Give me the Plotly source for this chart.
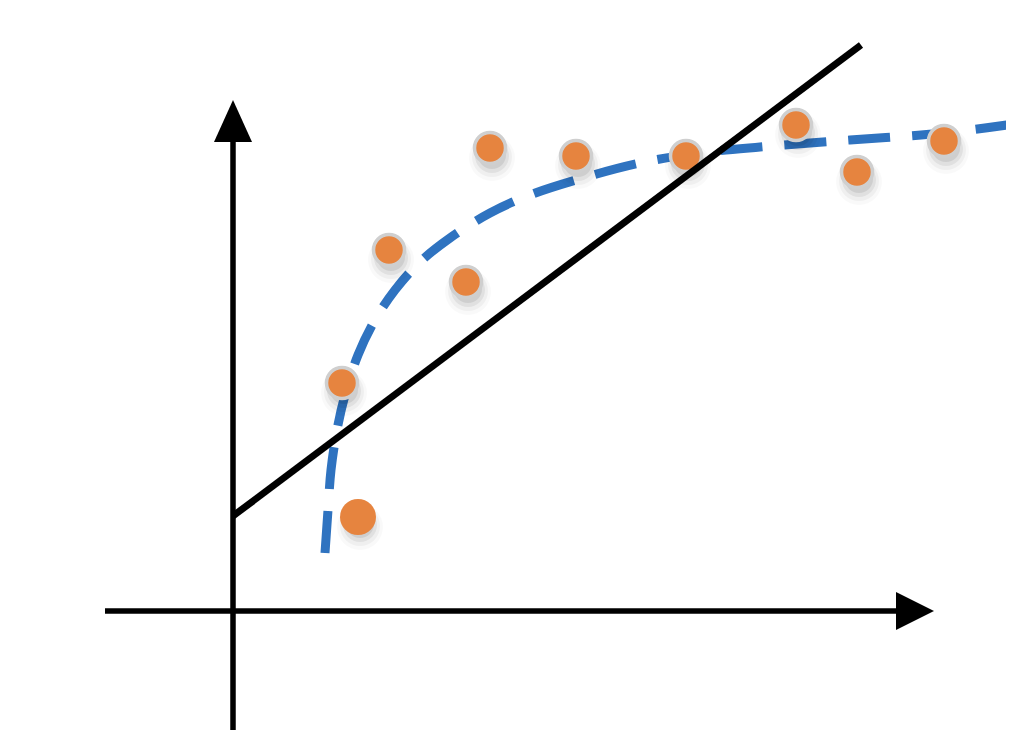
import plotly.graph_objects as go

# Data (units: 1 unit = 100 px of the reference picture, origin at axes crossing)
pts_x = [1.09, 1.56, 2.33, 2.57, 3.43, 4.53, 5.63, 6.24, 7.11]
pts_y = [2.29, 3.62, 3.30, 4.64, 4.56, 4.56, 4.87, 4.40, 4.71]
outlier_x = [1.25]
outlier_y = [0.95]

curve_x = [0.92, 0.95, 0.98, 1.04, 1.12, 1.25, 1.42, 1.62, 1.87, 2.17, 2.57, 2.97, 3.43, 4.07, 4.67, 5.27, 6.17, 7.11, 7.81]
curve_y = [0.59, 1.02, 1.42, 1.82, 2.17, 2.57, 2.92, 3.22, 3.50, 3.74, 3.99, 4.17, 4.32, 4.49, 4.59, 4.65, 4.72, 4.79, 4.88]

fit_x = [0.0, 6.28]
fit_y = [0.96, 5.67]

ORANGE = "#E6843F"
BLUE = "#2F73C0"

fig = go.Figure()

# axes with arrows (decoration)
AX_W = 5.5
fig.add_shape(type="line", x0=0, x1=0, y0=-1.4, y1=4.72, line=dict(color="black", width=AX_W))
fig.add_shape(type="path", path="M -0.19 4.70 L 0.19 4.70 L 0 5.12 Z", fillcolor="black", line=dict(width=0))
fig.add_shape(type="line", x0=-1.28, x1=6.65, y0=0.01, y1=0.01, line=dict(color="black", width=AX_W))
fig.add_shape(type="path", path="M 6.63 0.20 L 6.63 -0.18 L 7.01 0.01 Z", fillcolor="black", line=dict(width=0))

# dashed fitted curve
fig.add_trace(go.Scatter(x=curve_x, y=curve_y, mode="lines",
                         line=dict(color=BLUE, width=9, dash="42px,22px", shape="spline", smoothing=1.0),
                         hoverinfo="skip"))

# soft shadows
all_x = pts_x + outlier_x
all_y = pts_y + outlier_y
for size, op, dy in [(46, 0.025, 0.10), (40, 0.04, 0.09), (34, 0.06, 0.08), (28, 0.08, 0.07)]:
    fig.add_trace(go.Scatter(x=[v + 0.02 for v in all_x], y=[v - dy for v in all_y], mode="markers",
                             marker=dict(size=size, color=f"rgba(0,0,0,{op})", line=dict(width=0)),
                             hoverinfo="skip"))

# points
fig.add_trace(go.Scatter(x=pts_x, y=pts_y, mode="markers",
                         marker=dict(size=31, color=ORANGE, line=dict(color="#CFCFCF", width=3.5))))
fig.add_trace(go.Scatter(x=outlier_x, y=outlier_y, mode="markers",
                         marker=dict(size=36, color=ORANGE, line=dict(width=0))))

# straight fit line
fig.add_trace(go.Scatter(x=fit_x, y=fit_y, mode="lines",
                         line=dict(color="black", width=7), hoverinfo="skip"))

fig.update_layout(
    width=998, height=722, autosize=False,
    margin=dict(l=0, r=0, t=0, b=0),
    paper_bgcolor="white", plot_bgcolor="white",
    showlegend=False,
    xaxis=dict(range=[-2.25, 7.73], visible=False, fixedrange=True),
    yaxis=dict(range=[-1.18, 6.04], visible=False, fixedrange=True),
)

fig.write_html("out.html")
